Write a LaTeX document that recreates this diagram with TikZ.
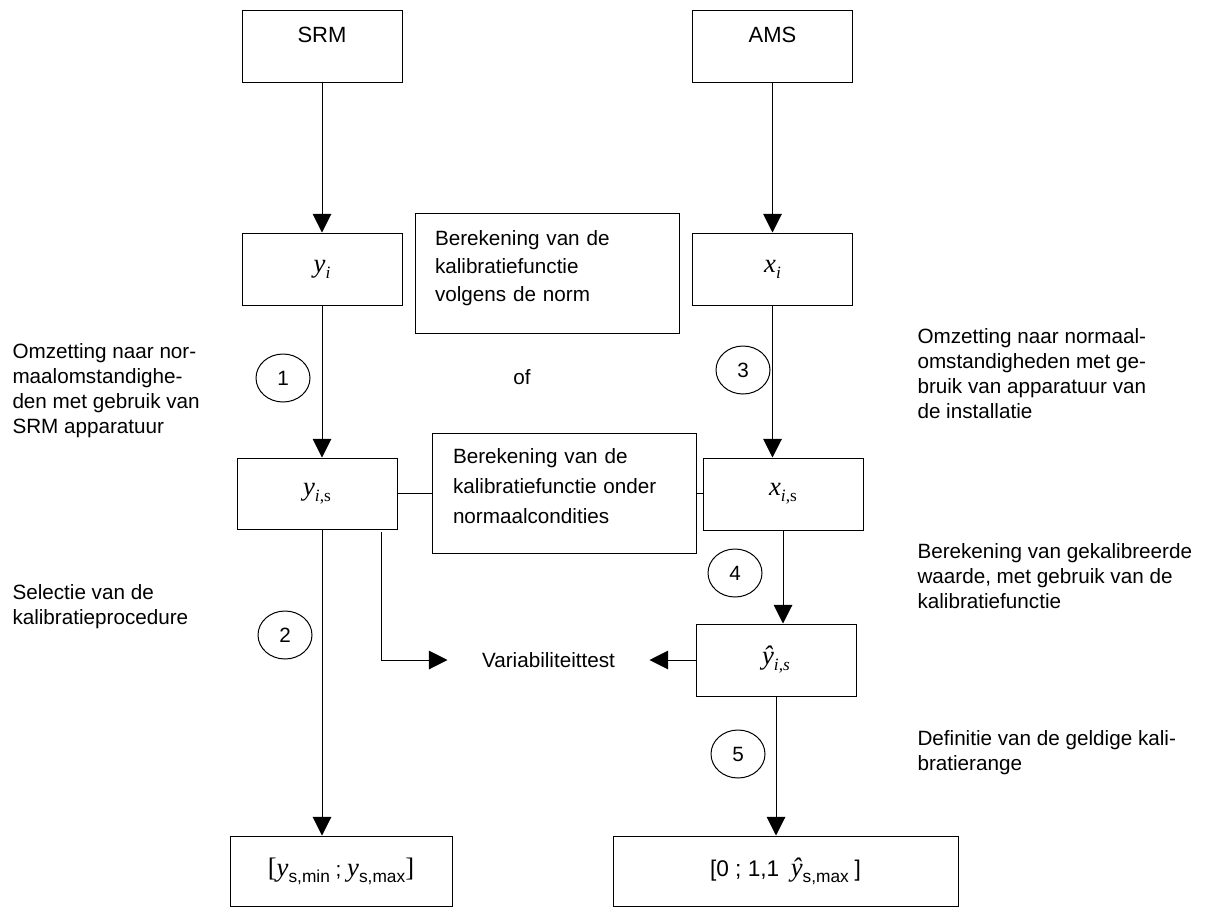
\documentclass[tikz,border=0pt]{standalone}
\usepackage{fontspec}
\setmainfont{Liberation Sans}
\newfontfamily\tmsfont{Liberation Serif}
\usetikzlibrary{arrows.meta,shapes.geometric}

\newcommand{\mvar}[1]{{\tmsfont\itshape\fontsize{20}{22}\selectfont #1}}
\newcommand{\msub}[1]{\raisebox{-0.55ex}{\fontsize{13}{15}\selectfont #1}}
\newcommand{\bigbr}[1]{{\tmsfont\fontsize{20}{22}\selectfont #1}}

\begin{document}
\begin{tikzpicture}[x=0.75pt,y=-0.75pt,line width=0.75pt,
    font=\fontsize{15.5}{18.75}\selectfont,
    box/.style={draw,inner sep=0pt,minimum width=120pt,minimum height=54pt},
    topbox/.style={box,text height=24.3pt,text depth=29.7pt,font=\fontsize{16.5}{18.75}\selectfont},
    textbox/.style={draw,inner ysep=0pt,inner xsep=15pt,text width=168pt,align=left},
    num/.style={draw,ellipse,inner sep=0pt,minimum width=40.5pt,minimum height=36pt},
    note/.style={align=left,inner sep=0pt,anchor=west},
    arr/.style={-{Triangle[length=14pt,width=14pt]}}]
        \useasboundingbox (0,0) rectangle (1207,908);

        \node[topbox] (srm) at (322,46){SRM};
        \node[topbox] (ams) at (772.5,46){AMS};

        \node[box] (yi) at (322,269){\mvar{y}\msub{\tmsfont\itshape i}};
        \node[box] (xi) at (772.5,269){\mvar{x}\msub{\tmsfont\itshape i}};
        \node[textbox,text height=24pt,text depth=66pt,font=\fontsize{15.5}{21}\selectfont] (norm) at (547,273)
            {Berekening van de\\kalibratiefunctie\\volgens de norm};

        \node[box,minimum height=53.25pt] (yis) at (317,493.5){\mvar{y}\msub{\tmsfont\itshape i\/\upshape,s}};
        \node[textbox,inner xsep=15.75pt,text width=166.5pt,text height=22.5pt,text depth=67.5pt,font=\fontsize{15.5}{22.5}\selectfont] (kal) at (564,493)
            {Berekening van de\\kalibratiefunctie onder\\normaalcondities};
        \node[box] (xis) at (783,494){\mvar{x}\msub{\tmsfont\itshape i\/\upshape,s}};

        \node[box] (yhat) at (776,660){\mvar{ŷ}\msub{\tmsfont\itshape i,s}};
        \node[minimum width=150.75pt,inner sep=0pt] (var) at (548.5,660){Variabiliteittest};

        \node[box,minimum width=166.5pt,minimum height=52.5pt] (ymin) at (341,871)
            {\bigbr{[}\mvar{y}\msub{s,min} ; \mvar{y}\msub{s,max}\bigbr{]}};
        \node[box,minimum width=258.75pt,minimum height=52.5pt] (range) at (785.5,871)
            {{\fontsize{17}{20}\selectfont[0 ; 1,1}\ \ \mvar{ŷ}\msub{s,max}\ {\fontsize{17}{20}\selectfont]}};

        \node[num] (n1) at (283,378){1};
        \node[num] (n2) at (285,635){2};
        \node[num] (n3) at (743,370){3};
        \node[num] (n4) at (735,573){4};
        \node[num] (n5) at (738,754){5};

        \node (of) at (522,377){of};

        \node[note] (lnote1) at (12,390.5){Omzetting naar nor-\\maalomstandighe-\\den met gebruik van\\SRM apparatuur};
        \node[note] (lnote2) at (12,606.5){Selectie van de\\kalibratieprocedure};
        \node[note] (rnote1) at (917,373.5){Omzetting naar normaal-\\omstandigheden met ge-\\bruik van apparatuur van\\de installatie};
        \node[note] (rnote2) at (917,576){Berekening van gekalibreerde\\waarde, met gebruik van de\\kalibratiefunctie};
        \node[note] (rnote3) at (917,753){Definitie van de geldige kali-\\bratierange};

        \coordinate (vknik) at (381,532);

        \draw[arr] (srm) -- (yi);
        \draw[arr] (ams) -- (xi);
        \draw[arr] (yi.south) -- (yi.south |- yis.north);
        \draw[arr] (xi.south) -- (xi.south |- xis.north);
        \draw (yis.east) -- (yis.east -| kal.west);
        \draw (kal.east) -- (kal.east -| xis.west);
        \draw[arr] (yis.south -| yi.south) -- (yi.south |- ymin.north);
        \draw[arr] (vknik) |- (var.west);
        \draw[arr] (yhat.west) -- (var.east);
        \draw[arr] (xis.south) -- (xis.south |- yhat.north);
        \draw[arr] (yhat.south) -- (yhat.south |- range.north);
    \end{tikzpicture}
\end{document}
